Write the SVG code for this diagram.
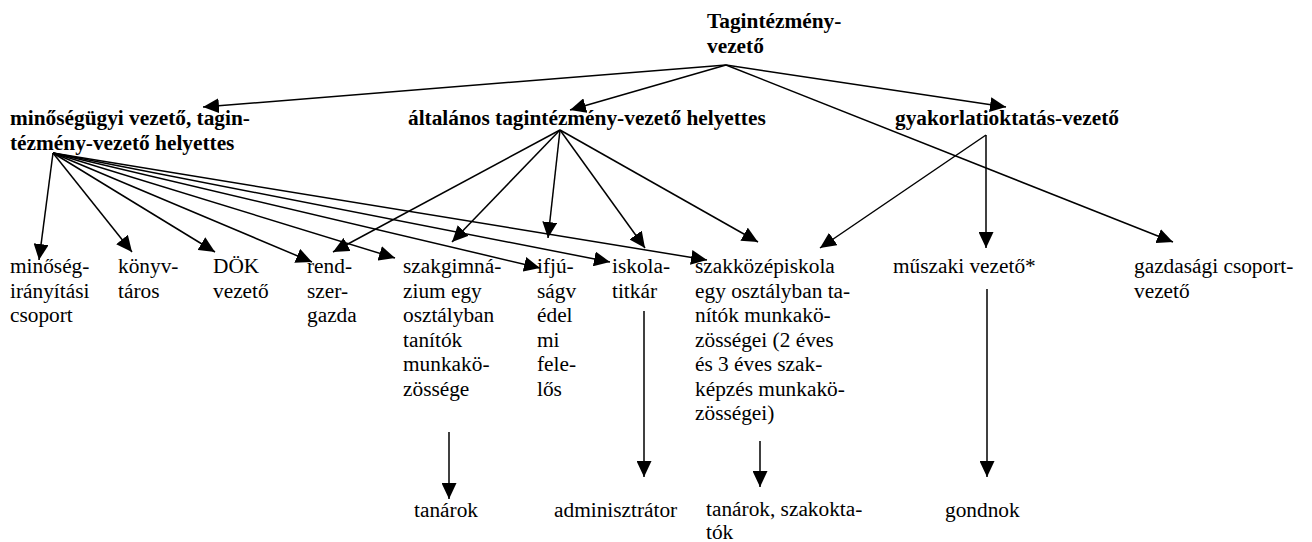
<svg xmlns="http://www.w3.org/2000/svg" width="1312" height="542" viewBox="0 0 1312 542">
<style>
text{font-family:"Liberation Serif",Tinos,"Times New Roman",Times,"DejaVu Serif",serif;font-size:21.33px;fill:#000}
.b{font-weight:bold}
.c line{stroke:#000;stroke-width:1.5;marker-end:url(#ah)}
</style>
<defs>
<marker id="ah" markerUnits="userSpaceOnUse" markerWidth="16" markerHeight="15" refX="16" refY="7.5" orient="auto" viewBox="0 0 16 15">
<path d="M0,0 L16,7.5 L0,15 z" fill="#000"/>
</marker>
</defs>
<rect width="1312" height="542" fill="#fff"/>
<g id="connectors" class="c">
<line x1="726" y1="65" x2="203" y2="107"/>
<line x1="726" y1="65" x2="570" y2="110"/>
<line x1="726" y1="65" x2="1006" y2="107"/>
<line x1="726" y1="65" x2="1173" y2="242"/>
<line x1="53" y1="153" x2="39" y2="260"/>
<line x1="53" y1="153" x2="132" y2="252"/>
<line x1="53" y1="153" x2="215" y2="252"/>
<line x1="53" y1="153" x2="312" y2="262"/>
<line x1="53" y1="153" x2="395" y2="258"/>
<line x1="53" y1="153" x2="540" y2="268"/>
<line x1="53" y1="153" x2="610" y2="262"/>
<line x1="53" y1="153" x2="707" y2="260"/>
<line x1="560" y1="130" x2="333" y2="252"/>
<line x1="560" y1="130" x2="452" y2="242"/>
<line x1="560" y1="130" x2="548" y2="238"/>
<line x1="560" y1="130" x2="645" y2="248"/>
<line x1="560" y1="130" x2="758" y2="242"/>
<line x1="986" y1="135" x2="820" y2="248"/>
<line x1="986" y1="135" x2="986" y2="248"/>
<line x1="449" y1="432" x2="449" y2="499"/>
<line x1="644" y1="311" x2="644" y2="477"/>
<line x1="760" y1="441" x2="760" y2="487"/>
<line x1="987" y1="289" x2="987" y2="477"/>
</g>
<g id="tagintezmeny-vezeto"><text class="b" x="707" y="28">Tagintézmény-</text><text class="b" x="707" y="53">vezető</text></g>
<g id="minosegugyi"><text class="b" x="10" y="125">minőségügyi vezető, tagin-</text><text class="b" x="10" y="150">tézmény-vezető helyettes</text></g>
<g id="altalanos"><text class="b" x="408" y="125">általános tagintézmény-vezető helyettes</text></g>
<g id="gyakorlati"><text class="b" x="895" y="125">gyakorlatioktatás-vezető</text></g>
<g id="minosegiranyitasi"><text x="10" y="273">minőség-</text><text x="10" y="297.5">irányítási</text><text x="10" y="322">csoport</text></g>
<g id="konyvtaros"><text x="118" y="273">könyv-</text><text x="118" y="297.5">táros</text></g>
<g id="dok"><text x="213" y="273">DÖK</text><text x="213" y="297.5">vezető</text></g>
<g id="rendszergazda"><text x="307" y="273">rend-</text><text x="307" y="297.5">szer-</text><text x="307" y="322">gazda</text></g>
<g id="szakgimnazium"><text x="403" y="273">szakgimná-</text><text x="403" y="297.5">zium egy</text><text x="403" y="322">osztályban</text><text x="403" y="346.5">tanítók</text><text x="403" y="371">munkakö-</text><text x="403" y="395.5">zössége</text></g>
<g id="ifjusagvedelmi"><text x="537" y="273">ifjú-</text><text x="537" y="297.5">ságv</text><text x="537" y="322">édel</text><text x="537" y="346.5">mi</text><text x="537" y="371">fele-</text><text x="537" y="395.5">lős</text></g>
<g id="iskolatitkar"><text x="612" y="273">iskola-</text><text x="612" y="297.5">titkár</text></g>
<g id="szakkozepiskola"><text x="695" y="273">szakközépiskola</text><text x="695" y="297.5">egy osztályban ta-</text><text x="695" y="322">nítók munkakö-</text><text x="695" y="346.5">zösségei (2 éves</text><text x="695" y="371">és 3 éves szak-</text><text x="695" y="395.5">képzés munkakö-</text><text x="695" y="420">zösségei)</text></g>
<g id="muszaki"><text x="893" y="273">műszaki vezető*</text></g>
<g id="gazdasagi"><text x="1134" y="273">gazdasági csoport-</text><text x="1134" y="297.5">vezető</text></g>
<g id="tanarok"><text x="414" y="517">tanárok</text></g>
<g id="adminisztrator"><text x="554" y="517">adminisztrátor</text></g>
<g id="tanarok-szakoktatok"><text x="706" y="516">tanárok, szakokta-</text><text x="706" y="539">tók</text></g>
<g id="gondnok"><text x="945" y="517">gondnok</text></g>
</svg>
